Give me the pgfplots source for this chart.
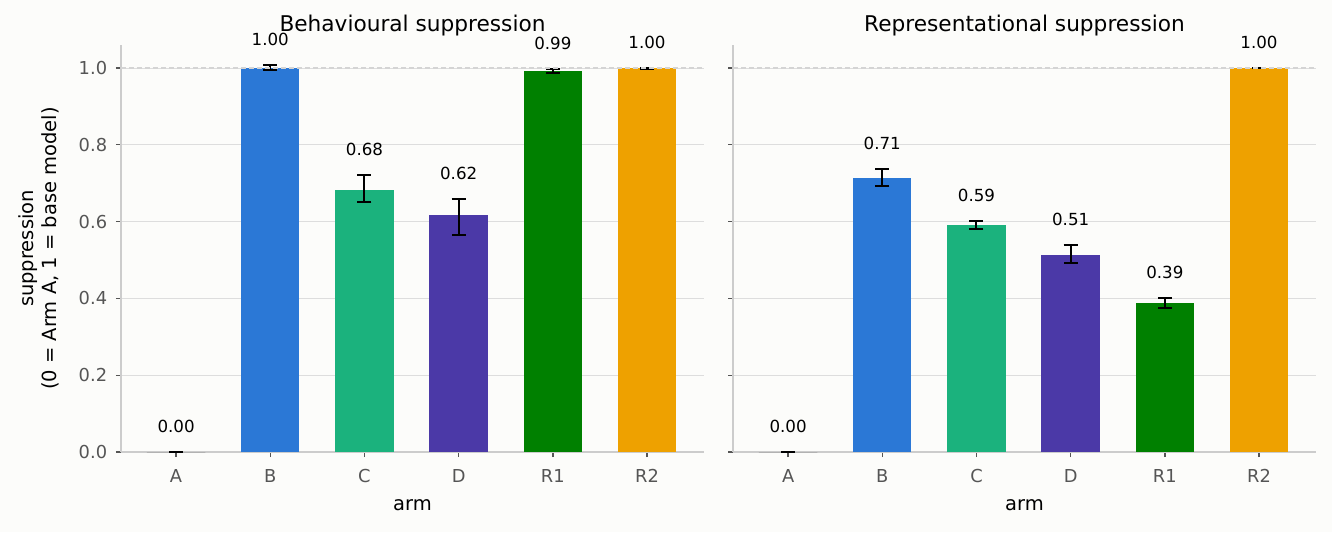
\documentclass[border=0pt]{standalone}
\usepackage{fontspec}
\setmainfont{DejaVu Sans}
\usepackage{pgfplots}
\pgfplotsset{compat=1.18}
\definecolor{bg}{RGB}{252,252,250}
\definecolor{cB}{RGB}{43,120,214}
\definecolor{cC}{RGB}{27,178,125}
\definecolor{cD}{RGB}{75,57,167}
\definecolor{cR1}{RGB}{0,128,0}
\definecolor{cR2}{RGB}{238,161,0}
\definecolor{spine}{RGB}{204,204,204}
\definecolor{dashc}{RGB}{212,212,212}
\definecolor{gridc}{RGB}{221,221,221}
\definecolor{tickc}{RGB}{85,85,85}
\pgfplotsset{
  panel/.style={
    scale only axis, width=349.8pt, height=244.2pt,
    xmin=-0.585, xmax=5.605, ymin=0, ymax=1.06,
    axis x line*=bottom, axis y line*=left,
    axis line style={spine, line width=0.8pt},
    tick align=outside, major tick length=3pt,
    tick style={tickc, line width=0.8pt},
    xtick={0,1,2,3,4,5}, xticklabels={A,B,C,D,R1,R2},
    ytick={0,0.2,0.4,0.6,0.8,1.0},
    /pgf/number format/assume math mode=true,
    /pgf/number format/fixed, /pgf/number format/fixed zerofill,
    /pgf/number format/precision=1,
    ticklabel style={font=\fontsize{10.7}{12.8}\selectfont, text=tickc},
    xticklabel style={yshift=-3.6pt, text height=8pt, text depth=0pt},
    yticklabel style={xshift=-1.8pt},
    ymajorgrids, grid style={gridc, line width=0.6pt},
    clip=false,
    title style={anchor=center, yshift=5.4pt, font=\fontsize{13}{15.6}\selectfont, text=black},
    xlabel style={at={(axis description cs:0.5,0)}, anchor=center, yshift=-31.8pt, font=\fontsize{11.7}{14}\selectfont},
    xlabel={arm},
    error bars/y dir=both, error bars/y explicit,
    error bars/error bar style={black, line width=1.2pt},
    error bars/error mark options={rotate=90, mark size=4.2pt, line width=1.2pt, black},
    nodes near coords style={anchor=center, yshift=15.3pt, font=\fontsize{10}{12}\selectfont, text=black},
  },
  bar/.style={ybar, bar width=0.62, bar shift=0pt, draw=none, fill=#1},
}
\begin{document}
\begin{tikzpicture}
\fill[bg] (-72.6pt,-48pt) rectangle (726.6pt,271.2pt);
\begin{axis}[panel, at={(0pt,0pt)}, anchor=south west,
  title={Behavioural suppression},
  ylabel={suppression\\(0 = Arm A, 1 = base model)},
  ylabel style={at={(axis description cs:-0.1407,0.5)}, anchor=center, align=center, font=\fontsize{11.7}{14}\selectfont}]
\addplot[bar=black] coordinates {(0,0) += (0,0) -= (0,0)};
\addplot[bar=cB] coordinates {(1,1.000) += (0,0.008) -= (0,0.004)};
\addplot[bar=cC] coordinates {(2,0.683) += (0,0.039) -= (0,0.031)};
\addplot[bar=cD] coordinates {(3,0.616) += (0,0.042) -= (0,0.052)};
\addplot[bar=cR1] coordinates {(4,0.991) += (0,0.006) -= (0,0.005)};
\addplot[bar=cR2] coordinates {(5,0.999) += (0,0.001) -= (0,0.001)};
\addplot[dashc, line width=0.9pt, dash pattern=on 3pt off 1.8pt] coordinates {(-0.585,1) (5.605,1)};
\addplot[draw=none, nodes near coords, point meta=explicit symbolic] table[meta=lab] {
x y lab
0 0.000 0.00
1 1.008 1.00
2 0.722 0.68
3 0.658 0.62
4 0.997 0.99
5 1.000 1.00
};
\end{axis}
\begin{axis}[panel, at={(367.2pt,0pt)}, anchor=south west,
  title={Representational suppression}, yticklabels={}]
\addplot[bar=black] coordinates {(0,0) += (0,0) -= (0,0)};
\addplot[bar=cB] coordinates {(1,0.713) += (0,0.024) -= (0,0.021)};
\addplot[bar=cC] coordinates {(2,0.591) += (0,0.010) -= (0,0.009)};
\addplot[bar=cD] coordinates {(3,0.512) += (0,0.027) -= (0,0.020)};
\addplot[bar=cR1] coordinates {(4,0.387) += (0,0.014) -= (0,0.013)};
\addplot[bar=cR2] coordinates {(5,1.000) += (0,0.001) -= (0,0.001)};
\addplot[dashc, line width=0.9pt, dash pattern=on 3pt off 1.8pt] coordinates {(-0.585,1) (5.605,1)};
\addplot[draw=none, nodes near coords, point meta=explicit symbolic] table[meta=lab] {
x y lab
0 0.000 0.00
1 0.737 0.71
2 0.601 0.59
3 0.539 0.51
4 0.401 0.39
5 1.001 1.00
};
\end{axis}
\pgfresetboundingbox
\useasboundingbox (-72.6pt,-48pt) rectangle (726.6pt,271.2pt);
\end{tikzpicture}
\end{document}
